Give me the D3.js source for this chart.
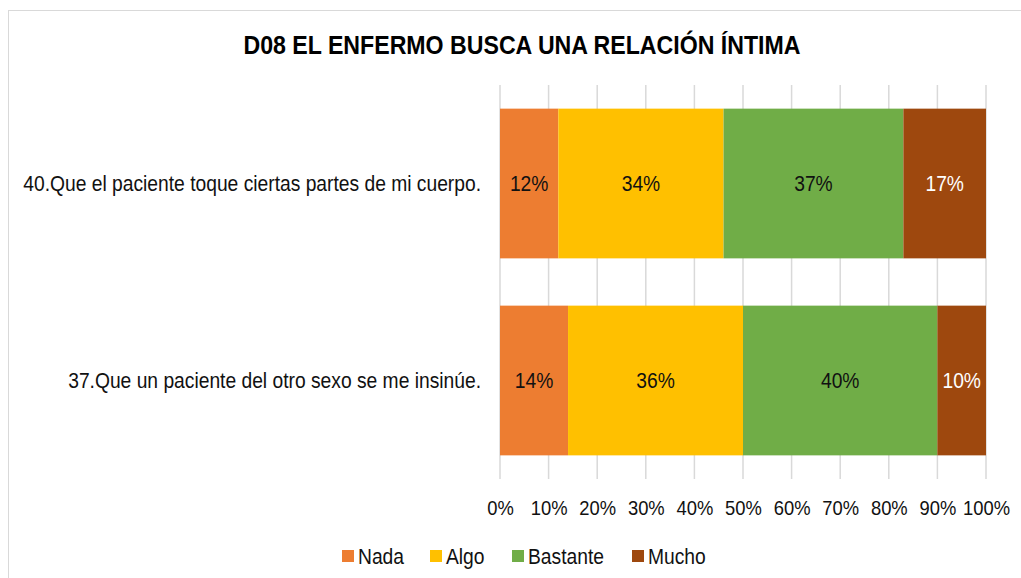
<!DOCTYPE html>
<html><head><meta charset="utf-8">
<script src="https://cdn.jsdelivr.net/npm/d3@7"></script>
<style>
body{margin:0;background:#fff;}
svg text{font-family:"Liberation Sans",Arial,sans-serif;}
</style></head>
<body><svg id="c" width="1021" height="578"></svg>
<script>
const categories = ["40.Que el paciente toque ciertas partes de mi cuerpo.", "37.Que un paciente del otro sexo se me insinúe."];
const seriesNames = ["Nada", "Algo", "Bastante", "Mucho"];
const nada = [12, 14];
const algo = [34, 36];
const bastante = [37, 40];
const mucho = [17, 10];
const tickLabels = [0,10,20,30,40,50,60,70,80,90,100];
const colors = ["#ED7D31", "#FFC000", "#70AD47", "#9E480E"];
const labelColors = ["#111111", "#111111", "#111111", "#ffffff"];
const K = 0.875; // horizontal condensing to mimic narrow font

const series = [nada, algo, bastante, mucho];
const svg = d3.select("#c");
svg.append("rect").attr("x",8.5).attr("y",10.5).attr("width",1030).attr("height",600)
  .attr("fill","#fff").attr("stroke","#d9d9d9");

svg.append("text").attr("transform","translate(522,54) scale(0.89,1)").attr("text-anchor","middle")
  .attr("font-size",26).attr("font-weight","bold").attr("fill","#000")
  .text("D08 EL ENFERMO BUSCA UNA RELACIÓN ÍNTIMA");

const x = d3.scaleLinear().domain([0,100]).range([500,986]);
const y = d3.scaleBand().domain(categories).range([85,479]).paddingInner(0.24).paddingOuter(0.12);

// gridlines
svg.append("g").selectAll("line").data(tickLabels).join("line")
  .attr("x1",d=>x(d)).attr("x2",d=>x(d)).attr("y1",85).attr("y2",479)
  .attr("stroke","#d9d9d9").attr("stroke-width",1.5);

const stackData = categories.map((c,i)=>{
  let acc=0; return series.map((s,j)=>{const o={cat:c,j,v:s[i],x0:acc,x1:acc+s[i]}; acc+=s[i]; return o;});
}).flat();

svg.append("g").selectAll("rect").data(stackData).join("rect")
  .attr("x",d=>x(d.x0)).attr("width",d=>x(d.x1)-x(d.x0))
  .attr("y",d=>y(d.cat)).attr("height",y.bandwidth())
  .attr("fill",d=>colors[d.j]);

svg.append("g").selectAll("text").data(stackData).join("text")
  .attr("transform",d=>`translate(${x((d.x0+d.x1)/2)},${y(d.cat)+y.bandwidth()/2}) scale(${K},1)`)
  .attr("dy","0.36em").attr("text-anchor","middle").attr("font-size",22)
  .attr("fill",d=>labelColors[d.j]).text(d=>d.v+"%");

// category labels
svg.append("g").selectAll("text").data(categories).join("text")
  .attr("transform",d=>`translate(481,${y(d)+y.bandwidth()/2}) scale(${K},1)`).attr("dy","0.36em")
  .attr("text-anchor","end").attr("font-size",22).attr("fill","#111111").text(d=>d);

// x axis
const ax = d3.axisBottom(x).tickValues(tickLabels).tickFormat(d=>d+"%").tickSize(0).tickPadding(0);
const g = svg.append("g").attr("transform","translate(0,515)").call(ax);
g.select(".domain").remove();
g.selectAll("text").attr("font-size",21).attr("fill","#111111").attr("y",0).attr("dy",0)
  .attr("transform",`scale(${K},1)`)
  .attr("font-family","\"Liberation Sans\",Arial,sans-serif");

// legend
const legX = [342, 430, 512, 632];
const lg = svg.append("g").selectAll("g").data(seriesNames).join("g")
  .attr("transform",(d,i)=>`translate(${legX[i]},556)`);
lg.append("rect").attr("x",0).attr("y",-6).attr("width",12).attr("height",12).attr("fill",(d,i)=>colors[i]);
lg.append("text").attr("transform",`translate(16,0) scale(${K},1)`).attr("dy","0.36em").attr("font-size",22)
  .attr("fill","#111111").text(d=>d);
</script></body></html>
